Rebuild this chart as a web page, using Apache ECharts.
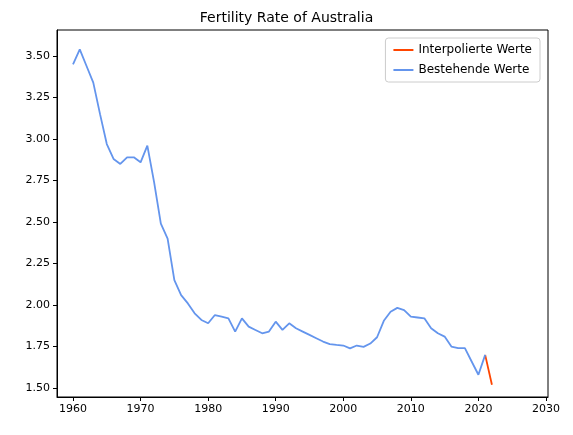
<!DOCTYPE html>
<html><head><meta charset="utf-8">
<script src="https://cdn.jsdelivr.net/npm/echarts@6/dist/echarts.min.js"></script>
<style>html,body{margin:0;padding:0;background:#fff}#c{width:573px;height:435px}</style>
</head><body><div id="c"></div>
<script>
// Fertility rate Australia
var years = [];
for (var y = 1960; y <= 2021; y++) years.push(y);
var rates = [3.45,3.54,3.44,3.34,3.15,2.97,2.88,2.85,2.89,2.89,2.86,2.96,2.74,2.49,2.40,2.15,2.06,2.01,1.95,1.91,
  1.89,1.94,1.93,1.92,1.84,1.92,1.87,1.85,1.83,1.84,1.90,1.85,1.89,1.86,1.84,1.82,1.80,1.78,1.765,1.76,
  1.756,1.739,1.756,1.748,1.768,1.806,1.905,1.96,1.983,1.97,1.93,1.925,1.92,1.86,1.83,1.81,1.75,1.74,1.74,1.66,
  1.58,1.70];
var interpYears = [2021, 2022];
var interpRates = [1.70, 1.52];
var xTicks = [1960,1970,1980,1990,2000,2010,2020,2030];
var yTicks = [1.5,1.75,2.0,2.25,2.5,2.75,3.0,3.25,3.5];

var font = 'DejaVu Sans';
var chart = echarts.init(document.getElementById('c'));
chart.setOption({
  animation: false,
  textStyle: {fontFamily: font},
  title: {text: 'Fertility Rate of Australia', left: 'center', top: 6,
    textStyle: {fontFamily: font, fontSize: 14, fontWeight: 'normal', color: '#000'}},
  grid: {left: 57, right: 25, top: 30, bottom: 38, show: true, borderColor: '#000', borderWidth: 1},
  legend: {
    orient: 'vertical', right: 33, top: 38, icon: 'rect', itemWidth: 20, itemHeight: 2, itemGap: 8,
    borderColor: '#ccc', borderWidth: 1, borderRadius: 3, padding: [6, 8, 6, 8],
    textStyle: {fontFamily: font, fontSize: 12, color: '#000'},
    data: ['Interpolierte Werte', 'Bestehende Werte']
  },
  xAxis: {
    type: 'value', min: 1957.63, max: 2030.3,
    axisLine: {show: true, lineStyle: {color: '#000'}},
    axisTick: {show: true, inside: false, length: 4, customValues: xTicks, lineStyle: {color: '#000'}},
    axisLabel: {customValues: xTicks, color: '#000', fontSize: 11, margin: 7,
      formatter: function (v) { return String(v); }},
    splitLine: {show: false}
  },
  yAxis: {
    type: 'value', min: 1.446, max: 3.657,
    axisLine: {show: true, lineStyle: {color: '#000'}},
    axisTick: {show: true, length: 4, customValues: yTicks, lineStyle: {color: '#000'}},
    axisLabel: {customValues: yTicks, color: '#000', fontSize: 11, margin: 7,
      formatter: function (v) { return v.toFixed(2); }},
    splitLine: {show: false}
  },
  series: [
    {name: 'Interpolierte Werte', type: 'line', showSymbol: false, color: '#ff4500',
      lineStyle: {width: 1.8}, data: interpYears.map(function (x, i) { return [x, interpRates[i]]; })},
    {name: 'Bestehende Werte', type: 'line', showSymbol: false, color: '#6495ed',
      lineStyle: {width: 1.8}, data: years.map(function (x, i) { return [x, rates[i]]; })}
  ]
});
</script></body></html>
